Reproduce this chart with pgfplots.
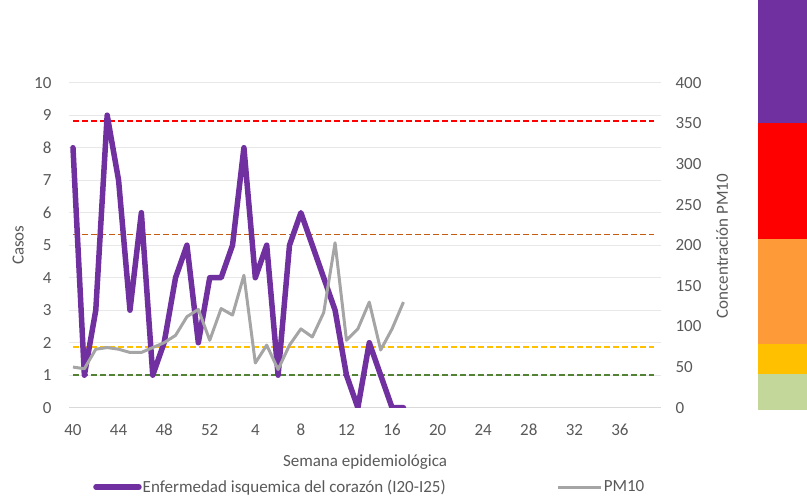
\documentclass[border=0pt]{standalone}
\usepackage{pgfplots}
\pgfplotsset{compat=1.18}
\usepackage{fontspec}
\setmainfont{Carlito}
\definecolor{txt}{HTML}{595959}
\definecolor{pur}{HTML}{7030A0}
\definecolor{pmgray}{HTML}{A5A5A5}
\definecolor{gridc}{HTML}{E8E8E8}
\definecolor{axc}{HTML}{D9D9D9}
\definecolor{lred}{HTML}{FF0000}
\definecolor{lorange}{HTML}{C55A11}
\definecolor{lyellow}{HTML}{FFC000}
\definecolor{lgreen}{HTML}{548235}
\definecolor{bpur}{HTML}{7030A0}
\definecolor{bred}{HTML}{FF0000}
\definecolor{borange}{HTML}{FF9A38}
\definecolor{byellow}{HTML}{FFC000}
\definecolor{bgreen}{HTML}{C4D79B}
\newcommand\ff{\fontsize{17}{20}\selectfont}
\begin{document}
\begin{tikzpicture}[x=1pt,y=1pt]
\path[use as bounding box] (0,0) rectangle (807,499);
% colour scale on the right
\fill[bpur] (758,376) rectangle (807,499);
\fill[bred] (758,260) rectangle (807,376);
\fill[borange] (758,155) rectangle (807,260);
\fill[byellow] (758,125) rectangle (807,155);
\fill[bgreen] (758,89) rectangle (807,125);
\begin{axis}[
  at={(69pt,91.3pt)}, anchor=south west,
  scale only axis, width=592pt, height=325pt,
  xmin=-0.35, xmax=51.6, ymin=0, ymax=10,
  axis y line*=left, axis x line*=bottom,
  y axis line style={draw=none},
  x axis line style={draw=axc, line width=1.2pt, -},
  major tick length=0pt,
  xtick={0,4,...,48},
  xticklabels={40,44,48,52,4,8,12,16,20,24,28,32,36},
  ytick={0,1,...,10},
  ymajorgrids, grid style={draw=gridc, line width=0.9pt},
  tick label style={font=\ff, text=txt},
  /pgf/number format/assume math mode=true,
  yticklabel style={xshift=-14pt},
  xticklabel style={yshift=-13pt},
  xlabel={Semana epidemiológica},
  xlabel style={at={(axis description cs:0.5,-0.166)}, anchor=center, font=\ff, text=txt},
  ylabel={Casos},
  ylabel style={at={(axis description cs:-0.086,0.5)}, anchor=center, font=\ff, text=txt},
  legend style={at={(axis description cs:0.0355,-0.244)}, anchor=west, draw=none, fill=none,
    font=\ff, text=txt, legend columns=2, nodes={inner sep=1pt},
    /tikz/every even column/.append style={column sep=110pt}},
  legend image code/.code={\draw[#1] (0pt,0pt) -- (43pt,0pt);},
  legend cell align=left,
]
\addplot[lred, line width=1.8pt, dash pattern=on 6pt off 3pt, forget plot] coordinates {(0,8.82) (51,8.82)};
\addplot[lorange, line width=1.8pt, dash pattern=on 6pt off 3pt, forget plot] coordinates {(0,5.33) (51,5.33)};
\addplot[lyellow, line width=1.8pt, dash pattern=on 6pt off 3pt, forget plot] coordinates {(0,1.88) (51,1.88)};
\addplot[lgreen, line width=1.8pt, dash pattern=on 6pt off 3pt, forget plot] coordinates {(0,1.0) (51,1.0)};
\addplot[pur, line width=5.5pt, line join=round, line cap=round, mark=none] table[x=i, y=c] {
i c
0 8
1 1
2 3
3 9
4 7
5 3
6 6
7 1
8 2
9 4
10 5
11 2
12 4
13 4
14 5
15 8
16 4
17 5
18 1
19 5
20 6
21 5
22 4
23 3
24 1
25 0
26 2
27 1
28 0
29 0
};
\addlegendentry{Enfermedad isquemica del corazón (I20-I25)}
\addlegendimage{pmgray, line width=3pt}
\addlegendentry{PM10}
\end{axis}
\begin{axis}[
  at={(69pt,91.3pt)}, anchor=south west,
  scale only axis, width=592pt, height=325pt,
  xmin=-0.35, xmax=51.6, ymin=0, ymax=400,
  axis y line*=right, axis x line=none,
  y axis line style={draw=none},
  major tick length=0pt,
  ytick={0,50,...,400},
  tick label style={font=\ff, text=txt},
  /pgf/number format/assume math mode=true,
  yticklabel style={xshift=11pt},
  ylabel={Concentración PM10},
  ylabel style={at={(axis description cs:1.103,0.497)}, anchor=center, font=\ff, text=txt},
]
\addplot[pmgray, line width=3pt, line join=round, mark=none] table[x=i, y=p] {
i p
0 50
1 48
2 72
3 74
4 72
5 68
6 68
7 74
8 80
9 89
10 112
11 121
12 83
13 122
14 114
15 163
16 55
17 77
18 47
19 77
20 97
21 87
22 117
23 203
24 83
25 97
26 130
27 71
28 97
29 130
};
\end{axis}
\end{tikzpicture}
\end{document}
